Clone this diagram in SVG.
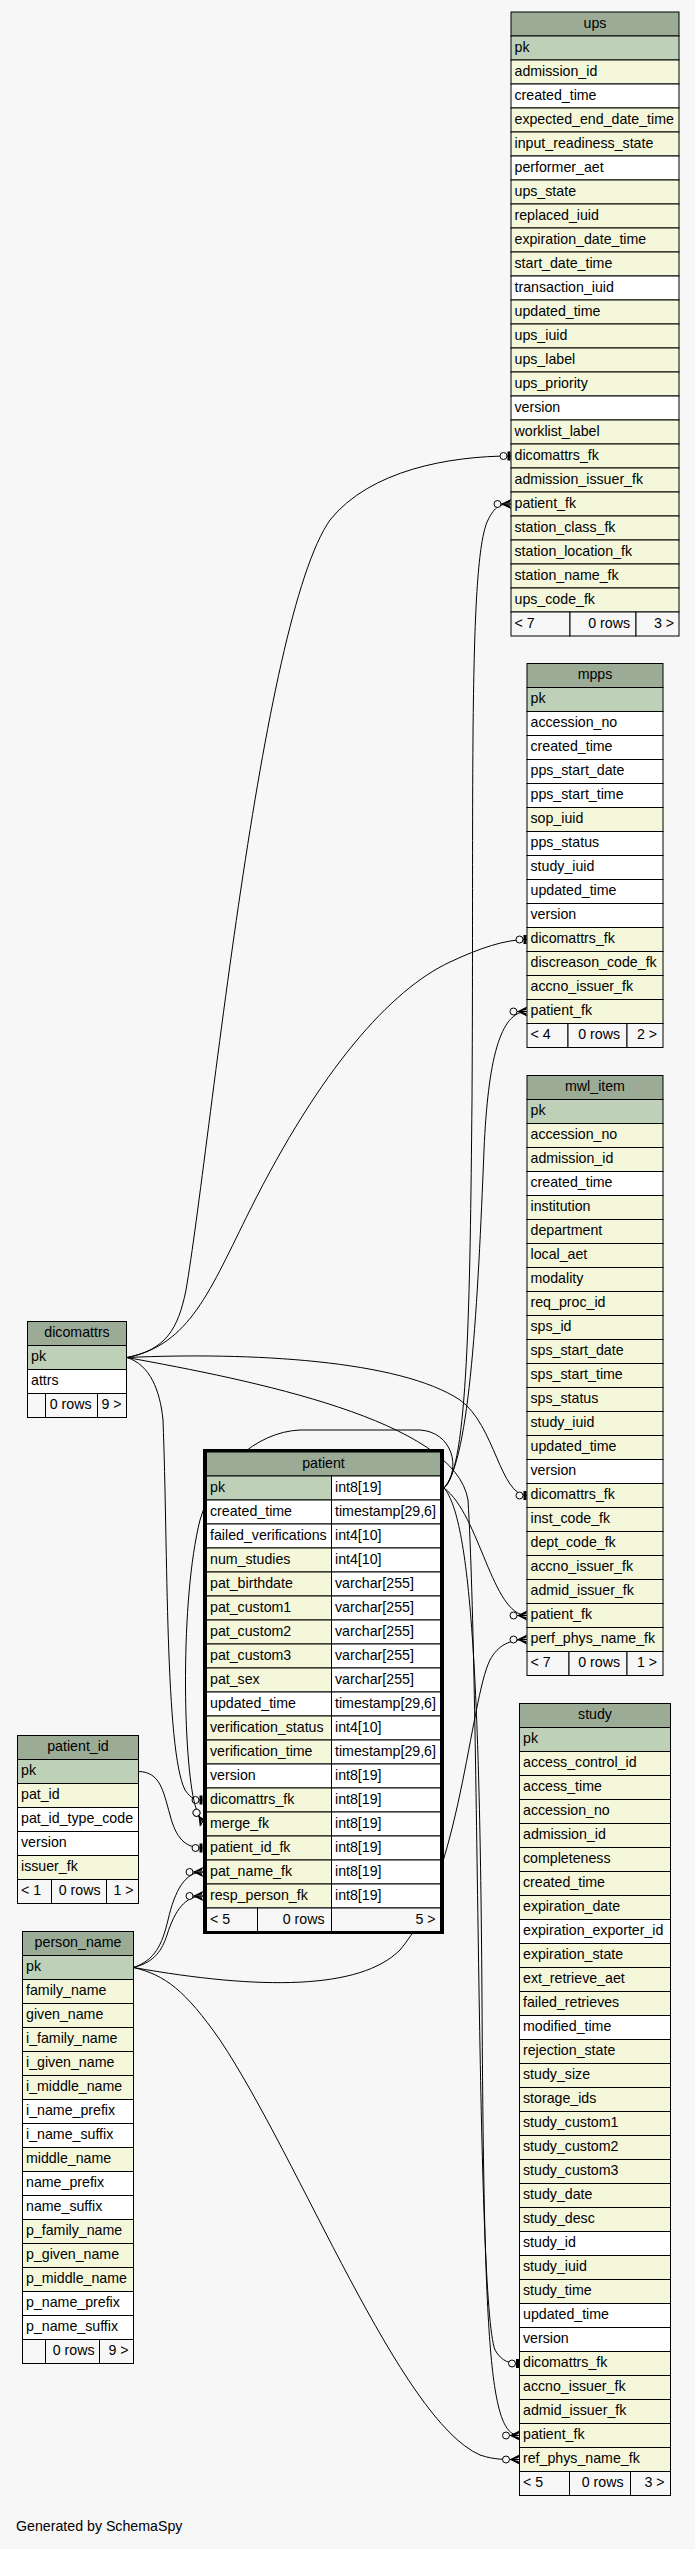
<svg xmlns="http://www.w3.org/2000/svg" width="695" height="2549" viewBox="0 0 695 2549">
<style>
rect{stroke:#000;stroke-width:1}
.h{fill:#9bab96}.p{fill:#bed1b8}.y{fill:#f4f7da}.w{fill:#ffffff}.f{fill:#f7f7f7}
text{font-family:"Liberation Sans",Arial,Helvetica,sans-serif;font-size:14.2px;fill:#000}
.c{text-anchor:middle}.r{text-anchor:end}
.e{fill:none;stroke:#000;stroke-width:1}
.pe{marker-end:url(#crow)}.te{marker-end:url(#tee)}
</style>
<defs>
<marker id="tee" markerUnits="userSpaceOnUse" viewBox="-14 -7 15 14" refX="0" refY="0" markerWidth="15" markerHeight="14" orient="auto" overflow="visible">
<rect x="-3.5" y="-4.5" width="3" height="9" style="fill:#000;stroke:none"/>
<circle cx="-7.5" cy="0" r="3.5" fill="#f7f7f7" stroke="#000"/>
</marker>
<marker id="crow" markerUnits="userSpaceOnUse" viewBox="-20 -7 21 14" refX="0" refY="0" markerWidth="21" markerHeight="14" orient="auto" overflow="visible">
<path d="M0,-5 L-10,0 L0,5 L-1,1.5 L-7,0 L-1,-1.5 Z" fill="#000"/>
<path d="M-10,0 H0" stroke="#000"/>
<circle cx="-13.5" cy="0" r="3.5" fill="#f7f7f7" stroke="#000"/>
</marker>
</defs>
<rect x="0" y="0" width="695" height="2549" style="fill:#f7f7f7;stroke:none"/>

<g id="connectors">
<path class="e te" d="M127,1357.5 C165,1350 178,1330 186,1290 C210,1150 260,620 330,520 C370,470 450,456 511,456"/>
<path class="e pe" d="M444,1488 C468,1470 470,1300 472,1100 C474,800 468,560 488,520 C495,506 500,504 511,504"/>
<path class="e te" d="M127,1357.5 C190,1345 210,1290 250,1210 C320,1070 390,990 450,962 C480,948 505,939.5 527,939.5"/>
<path class="e pe" d="M444,1488 C470,1460 478,1300 484,1150 C488,1060 500,1011.5 527,1011.5"/>
<path class="e te" d="M127,1357.5 C250,1352 400,1360 460,1400 C495,1425 500,1495.5 527,1495.5"/>
<path class="e pe" d="M444,1488 C480,1515 492,1615.5 527,1615.5"/>
<path class="e pe" d="M133.5,1967.5 C260,1990 360,1990 400,1950 C460,1880 470,1700 490,1660 C498,1645 510,1639.5 527,1639.5"/>
<path class="e te" d="M127,1357.5 C250,1380 455,1420 468,1500 C480,1700 476,2300 495,2350 C502,2362 510,2363.5 519.5,2363.5"/>
<path class="e pe" d="M444,1488 C472,1520 480,1700 482,2000 C484,2350 490,2435.5 519.5,2435.5"/>
<path class="e pe" d="M133.5,1967.5 C165,1975 185,1990 220,2040 C300,2160 400,2420 480,2455 C495,2460 505,2459.5 519.5,2459.5"/>
<path class="e te" d="M127,1357.5 C150,1365 160,1390 163,1420 C168,1550 165,1750 185,1790 C192,1800 196,1800 203,1800"/>
<path class="e pe" d="M444,1488 C462,1468 452,1432 420,1430 L300,1430 C255,1432 215,1470 200,1520 C180,1600 183,1760 195,1805 C197,1812 200,1818 204,1824"/>
<path class="e te" d="M138.5,1771.5 C160,1772 163,1790 170,1815 C176,1838 185,1848 203,1848"/>
<path class="e pe" d="M133.5,1967.5 C155,1960 162,1945 168,1920 C175,1890 185,1872 203,1872"/>
<path class="e pe" d="M133.5,1967.5 C155,1962 162,1950 167,1935 C175,1910 185,1896 203,1896"/>
</g>

<g id="ups" transform="translate(511,12)">
<rect class="h" x="0" y="0" width="168" height="24"/><text class="c" x="84" y="15.5">ups</text>
<rect class="p" x="0" y="24" width="168" height="24"/><text x="3.5" y="39.5">pk</text>
<rect class="y" x="0" y="48" width="168" height="24"/><text x="3.5" y="63.5">admission_id</text>
<rect class="w" x="0" y="72" width="168" height="24"/><text x="3.5" y="87.5">created_time</text>
<rect class="y" x="0" y="96" width="168" height="24"/><text x="3.5" y="111.5">expected_end_date_time</text>
<rect class="y" x="0" y="120" width="168" height="24"/><text x="3.5" y="135.5">input_readiness_state</text>
<rect class="w" x="0" y="144" width="168" height="24"/><text x="3.5" y="159.5">performer_aet</text>
<rect class="y" x="0" y="168" width="168" height="24"/><text x="3.5" y="183.5">ups_state</text>
<rect class="y" x="0" y="192" width="168" height="24"/><text x="3.5" y="207.5">replaced_iuid</text>
<rect class="y" x="0" y="216" width="168" height="24"/><text x="3.5" y="231.5">expiration_date_time</text>
<rect class="y" x="0" y="240" width="168" height="24"/><text x="3.5" y="255.5">start_date_time</text>
<rect class="w" x="0" y="264" width="168" height="24"/><text x="3.5" y="279.5">transaction_iuid</text>
<rect class="y" x="0" y="288" width="168" height="24"/><text x="3.5" y="303.5">updated_time</text>
<rect class="y" x="0" y="312" width="168" height="24"/><text x="3.5" y="327.5">ups_iuid</text>
<rect class="y" x="0" y="336" width="168" height="24"/><text x="3.5" y="351.5">ups_label</text>
<rect class="y" x="0" y="360" width="168" height="24"/><text x="3.5" y="375.5">ups_priority</text>
<rect class="w" x="0" y="384" width="168" height="24"/><text x="3.5" y="399.5">version</text>
<rect class="y" x="0" y="408" width="168" height="24"/><text x="3.5" y="423.5">worklist_label</text>
<rect class="y" x="0" y="432" width="168" height="24"/><text x="3.5" y="447.5">dicomattrs_fk</text>
<rect class="y" x="0" y="456" width="168" height="24"/><text x="3.5" y="471.5">admission_issuer_fk</text>
<rect class="y" x="0" y="480" width="168" height="24"/><text x="3.5" y="495.5">patient_fk</text>
<rect class="y" x="0" y="504" width="168" height="24"/><text x="3.5" y="519.5">station_class_fk</text>
<rect class="y" x="0" y="528" width="168" height="24"/><text x="3.5" y="543.5">station_location_fk</text>
<rect class="y" x="0" y="552" width="168" height="24"/><text x="3.5" y="567.5">station_name_fk</text>
<rect class="y" x="0" y="576" width="168" height="24"/><text x="3.5" y="591.5">ups_code_fk</text>
<rect class="f" x="0" y="600" width="59" height="24"/><rect class="f" x="59" y="600" width="66" height="24"/><rect class="f" x="125" y="600" width="43" height="24"/>
<text x="3.5" y="615.5">&lt; 7</text><text class="r" x="119" y="615.5">0 rows</text><text class="r" x="163" y="615.5">3 &gt;</text>
</g>

<g id="mpps" transform="translate(527,663.5)">
<rect class="h" x="0" y="0" width="136" height="24"/><text class="c" x="68" y="15.5">mpps</text>
<rect class="p" x="0" y="24" width="136" height="24"/><text x="3.5" y="39.5">pk</text>
<rect class="w" x="0" y="48" width="136" height="24"/><text x="3.5" y="63.5">accession_no</text>
<rect class="w" x="0" y="72" width="136" height="24"/><text x="3.5" y="87.5">created_time</text>
<rect class="w" x="0" y="96" width="136" height="24"/><text x="3.5" y="111.5">pps_start_date</text>
<rect class="w" x="0" y="120" width="136" height="24"/><text x="3.5" y="135.5">pps_start_time</text>
<rect class="y" x="0" y="144" width="136" height="24"/><text x="3.5" y="159.5">sop_iuid</text>
<rect class="w" x="0" y="168" width="136" height="24"/><text x="3.5" y="183.5">pps_status</text>
<rect class="w" x="0" y="192" width="136" height="24"/><text x="3.5" y="207.5">study_iuid</text>
<rect class="w" x="0" y="216" width="136" height="24"/><text x="3.5" y="231.5">updated_time</text>
<rect class="w" x="0" y="240" width="136" height="24"/><text x="3.5" y="255.5">version</text>
<rect class="y" x="0" y="264" width="136" height="24"/><text x="3.5" y="279.5">dicomattrs_fk</text>
<rect class="y" x="0" y="288" width="136" height="24"/><text x="3.5" y="303.5">discreason_code_fk</text>
<rect class="y" x="0" y="312" width="136" height="24"/><text x="3.5" y="327.5">accno_issuer_fk</text>
<rect class="y" x="0" y="336" width="136" height="24"/><text x="3.5" y="351.5">patient_fk</text>
<rect class="f" x="0" y="360" width="41" height="24"/><rect class="f" x="41" y="360" width="59" height="24"/><rect class="f" x="100" y="360" width="36" height="24"/>
<text x="3.5" y="375.5">&lt; 4</text><text class="r" x="93" y="375.5">0 rows</text><text class="r" x="130" y="375.5">2 &gt;</text>
</g>

<g id="mwl_item" transform="translate(527,1075.5)">
<rect class="h" x="0" y="0" width="136" height="24"/><text class="c" x="68" y="15.5">mwl_item</text>
<rect class="p" x="0" y="24" width="136" height="24"/><text x="3.5" y="39.5">pk</text>
<rect class="y" x="0" y="48" width="136" height="24"/><text x="3.5" y="63.5">accession_no</text>
<rect class="y" x="0" y="72" width="136" height="24"/><text x="3.5" y="87.5">admission_id</text>
<rect class="w" x="0" y="96" width="136" height="24"/><text x="3.5" y="111.5">created_time</text>
<rect class="y" x="0" y="120" width="136" height="24"/><text x="3.5" y="135.5">institution</text>
<rect class="y" x="0" y="144" width="136" height="24"/><text x="3.5" y="159.5">department</text>
<rect class="y" x="0" y="168" width="136" height="24"/><text x="3.5" y="183.5">local_aet</text>
<rect class="y" x="0" y="192" width="136" height="24"/><text x="3.5" y="207.5">modality</text>
<rect class="y" x="0" y="216" width="136" height="24"/><text x="3.5" y="231.5">req_proc_id</text>
<rect class="y" x="0" y="240" width="136" height="24"/><text x="3.5" y="255.5">sps_id</text>
<rect class="y" x="0" y="264" width="136" height="24"/><text x="3.5" y="279.5">sps_start_date</text>
<rect class="y" x="0" y="288" width="136" height="24"/><text x="3.5" y="303.5">sps_start_time</text>
<rect class="y" x="0" y="312" width="136" height="24"/><text x="3.5" y="327.5">sps_status</text>
<rect class="y" x="0" y="336" width="136" height="24"/><text x="3.5" y="351.5">study_iuid</text>
<rect class="y" x="0" y="360" width="136" height="24"/><text x="3.5" y="375.5">updated_time</text>
<rect class="w" x="0" y="384" width="136" height="24"/><text x="3.5" y="399.5">version</text>
<rect class="y" x="0" y="408" width="136" height="24"/><text x="3.5" y="423.5">dicomattrs_fk</text>
<rect class="y" x="0" y="432" width="136" height="24"/><text x="3.5" y="447.5">inst_code_fk</text>
<rect class="y" x="0" y="456" width="136" height="24"/><text x="3.5" y="471.5">dept_code_fk</text>
<rect class="y" x="0" y="480" width="136" height="24"/><text x="3.5" y="495.5">accno_issuer_fk</text>
<rect class="y" x="0" y="504" width="136" height="24"/><text x="3.5" y="519.5">admid_issuer_fk</text>
<rect class="y" x="0" y="528" width="136" height="24"/><text x="3.5" y="543.5">patient_fk</text>
<rect class="y" x="0" y="552" width="136" height="24"/><text x="3.5" y="567.5">perf_phys_name_fk</text>
<rect class="f" x="0" y="576" width="42" height="24"/><rect class="f" x="42" y="576" width="58" height="24"/><rect class="f" x="100" y="576" width="36" height="24"/>
<text x="3.5" y="591.5">&lt; 7</text><text class="r" x="93" y="591.5">0 rows</text><text class="r" x="130" y="591.5">1 &gt;</text>
</g>

<g id="study" transform="translate(519.5,1703.5)">
<rect class="h" x="0" y="0" width="151" height="24"/><text class="c" x="75.5" y="15.5">study</text>
<rect class="p" x="0" y="24" width="151" height="24"/><text x="3.5" y="39.5">pk</text>
<rect class="y" x="0" y="48" width="151" height="24"/><text x="3.5" y="63.5">access_control_id</text>
<rect class="y" x="0" y="72" width="151" height="24"/><text x="3.5" y="87.5">access_time</text>
<rect class="y" x="0" y="96" width="151" height="24"/><text x="3.5" y="111.5">accession_no</text>
<rect class="y" x="0" y="120" width="151" height="24"/><text x="3.5" y="135.5">admission_id</text>
<rect class="y" x="0" y="144" width="151" height="24"/><text x="3.5" y="159.5">completeness</text>
<rect class="y" x="0" y="168" width="151" height="24"/><text x="3.5" y="183.5">created_time</text>
<rect class="y" x="0" y="192" width="151" height="24"/><text x="3.5" y="207.5">expiration_date</text>
<rect class="w" x="0" y="216" width="151" height="24"/><text x="3.5" y="231.5">expiration_exporter_id</text>
<rect class="y" x="0" y="240" width="151" height="24"/><text x="3.5" y="255.5">expiration_state</text>
<rect class="y" x="0" y="264" width="151" height="24"/><text x="3.5" y="279.5">ext_retrieve_aet</text>
<rect class="y" x="0" y="288" width="151" height="24"/><text x="3.5" y="303.5">failed_retrieves</text>
<rect class="w" x="0" y="312" width="151" height="24"/><text x="3.5" y="327.5">modified_time</text>
<rect class="y" x="0" y="336" width="151" height="24"/><text x="3.5" y="351.5">rejection_state</text>
<rect class="y" x="0" y="360" width="151" height="24"/><text x="3.5" y="375.5">study_size</text>
<rect class="y" x="0" y="384" width="151" height="24"/><text x="3.5" y="399.5">storage_ids</text>
<rect class="y" x="0" y="408" width="151" height="24"/><text x="3.5" y="423.5">study_custom1</text>
<rect class="y" x="0" y="432" width="151" height="24"/><text x="3.5" y="447.5">study_custom2</text>
<rect class="y" x="0" y="456" width="151" height="24"/><text x="3.5" y="471.5">study_custom3</text>
<rect class="y" x="0" y="480" width="151" height="24"/><text x="3.5" y="495.5">study_date</text>
<rect class="y" x="0" y="504" width="151" height="24"/><text x="3.5" y="519.5">study_desc</text>
<rect class="w" x="0" y="528" width="151" height="24"/><text x="3.5" y="543.5">study_id</text>
<rect class="y" x="0" y="552" width="151" height="24"/><text x="3.5" y="567.5">study_iuid</text>
<rect class="y" x="0" y="576" width="151" height="24"/><text x="3.5" y="591.5">study_time</text>
<rect class="w" x="0" y="600" width="151" height="24"/><text x="3.5" y="615.5">updated_time</text>
<rect class="w" x="0" y="624" width="151" height="24"/><text x="3.5" y="639.5">version</text>
<rect class="y" x="0" y="648" width="151" height="24"/><text x="3.5" y="663.5">dicomattrs_fk</text>
<rect class="y" x="0" y="672" width="151" height="24"/><text x="3.5" y="687.5">accno_issuer_fk</text>
<rect class="y" x="0" y="696" width="151" height="24"/><text x="3.5" y="711.5">admid_issuer_fk</text>
<rect class="y" x="0" y="720" width="151" height="24"/><text x="3.5" y="735.5">patient_fk</text>
<rect class="y" x="0" y="744" width="151" height="24"/><text x="3.5" y="759.5">ref_phys_name_fk</text>
<rect class="f" x="0" y="768" width="50" height="24"/><rect class="f" x="50" y="768" width="61" height="24"/><rect class="f" x="111" y="768" width="40" height="24"/>
<text x="3.5" y="783.5">&lt; 5</text><text class="r" x="104" y="783.5">0 rows</text><text class="r" x="145" y="783.5">3 &gt;</text>
</g>

<g id="dicomattrs" transform="translate(27.5,1321.5)">
<rect class="h" x="0" y="0" width="99" height="24"/><text class="c" x="49.5" y="15.5">dicomattrs</text>
<rect class="p" x="0" y="24" width="99" height="24"/><text x="3.5" y="39.5">pk</text>
<rect class="w" x="0" y="48" width="99" height="24"/><text x="3.5" y="63.5">attrs</text>
<rect class="f" x="0" y="72" width="18" height="24"/><rect class="f" x="18" y="72" width="52" height="24"/><rect class="f" x="70" y="72" width="29" height="24"/>
<text class="r" x="64" y="87.5">0 rows</text><text class="r" x="94" y="87.5">9 &gt;</text>
</g>

<g id="patient_id" transform="translate(17.5,1735.5)">
<rect class="h" x="0" y="0" width="121" height="24"/><text class="c" x="60.5" y="15.5">patient_id</text>
<rect class="p" x="0" y="24" width="121" height="24"/><text x="3.5" y="39.5">pk</text>
<rect class="y" x="0" y="48" width="121" height="24"/><text x="3.5" y="63.5">pat_id</text>
<rect class="w" x="0" y="72" width="121" height="24"/><text x="3.5" y="87.5">pat_id_type_code</text>
<rect class="w" x="0" y="96" width="121" height="24"/><text x="3.5" y="111.5">version</text>
<rect class="y" x="0" y="120" width="121" height="24"/><text x="3.5" y="135.5">issuer_fk</text>
<rect class="f" x="0" y="144" width="34" height="24"/><rect class="f" x="34" y="144" width="55" height="24"/><rect class="f" x="89" y="144" width="32" height="24"/>
<text x="3.5" y="159.5">&lt; 1</text><text class="r" x="83" y="159.5">0 rows</text><text class="r" x="116" y="159.5">1 &gt;</text>
</g>

<g id="person_name" transform="translate(22.5,1931.5)">
<rect class="h" x="0" y="0" width="111" height="24"/><text class="c" x="55.5" y="15.5">person_name</text>
<rect class="p" x="0" y="24" width="111" height="24"/><text x="3.5" y="39.5">pk</text>
<rect class="y" x="0" y="48" width="111" height="24"/><text x="3.5" y="63.5">family_name</text>
<rect class="y" x="0" y="72" width="111" height="24"/><text x="3.5" y="87.5">given_name</text>
<rect class="y" x="0" y="96" width="111" height="24"/><text x="3.5" y="111.5">i_family_name</text>
<rect class="y" x="0" y="120" width="111" height="24"/><text x="3.5" y="135.5">i_given_name</text>
<rect class="y" x="0" y="144" width="111" height="24"/><text x="3.5" y="159.5">i_middle_name</text>
<rect class="w" x="0" y="168" width="111" height="24"/><text x="3.5" y="183.5">i_name_prefix</text>
<rect class="w" x="0" y="192" width="111" height="24"/><text x="3.5" y="207.5">i_name_suffix</text>
<rect class="y" x="0" y="216" width="111" height="24"/><text x="3.5" y="231.5">middle_name</text>
<rect class="w" x="0" y="240" width="111" height="24"/><text x="3.5" y="255.5">name_prefix</text>
<rect class="w" x="0" y="264" width="111" height="24"/><text x="3.5" y="279.5">name_suffix</text>
<rect class="y" x="0" y="288" width="111" height="24"/><text x="3.5" y="303.5">p_family_name</text>
<rect class="y" x="0" y="312" width="111" height="24"/><text x="3.5" y="327.5">p_given_name</text>
<rect class="y" x="0" y="336" width="111" height="24"/><text x="3.5" y="351.5">p_middle_name</text>
<rect class="w" x="0" y="360" width="111" height="24"/><text x="3.5" y="375.5">p_name_prefix</text>
<rect class="w" x="0" y="384" width="111" height="24"/><text x="3.5" y="399.5">p_name_suffix</text>
<rect class="f" x="0" y="408" width="23" height="24"/><rect class="f" x="23" y="408" width="54" height="24"/><rect class="f" x="77" y="408" width="34" height="24"/>
<text class="r" x="72" y="423.5">0 rows</text><text class="r" x="106" y="423.5">9 &gt;</text>
</g>

<g id="patient" transform="translate(206.5,1452)">
<rect class="h" x="0" y="0" width="234" height="24"/><text class="c" x="117" y="15.5">patient</text>
<rect class="p" x="0" y="24" width="125" height="24"/><rect class="w" x="125" y="24" width="109" height="24"/><text x="3.5" y="39.5">pk</text><text x="128.5" y="39.5">int8[19]</text>
<rect class="w" x="0" y="48" width="125" height="24"/><rect class="w" x="125" y="48" width="109" height="24"/><text x="3.5" y="63.5">created_time</text><text x="128.5" y="63.5">timestamp[29,6]</text>
<rect class="w" x="0" y="72" width="125" height="24"/><rect class="w" x="125" y="72" width="109" height="24"/><text x="3.5" y="87.5">failed_verifications</text><text x="128.5" y="87.5">int4[10]</text>
<rect class="y" x="0" y="96" width="125" height="24"/><rect class="w" x="125" y="96" width="109" height="24"/><text x="3.5" y="111.5">num_studies</text><text x="128.5" y="111.5">int4[10]</text>
<rect class="y" x="0" y="120" width="125" height="24"/><rect class="w" x="125" y="120" width="109" height="24"/><text x="3.5" y="135.5">pat_birthdate</text><text x="128.5" y="135.5">varchar[255]</text>
<rect class="y" x="0" y="144" width="125" height="24"/><rect class="w" x="125" y="144" width="109" height="24"/><text x="3.5" y="159.5">pat_custom1</text><text x="128.5" y="159.5">varchar[255]</text>
<rect class="y" x="0" y="168" width="125" height="24"/><rect class="w" x="125" y="168" width="109" height="24"/><text x="3.5" y="183.5">pat_custom2</text><text x="128.5" y="183.5">varchar[255]</text>
<rect class="y" x="0" y="192" width="125" height="24"/><rect class="w" x="125" y="192" width="109" height="24"/><text x="3.5" y="207.5">pat_custom3</text><text x="128.5" y="207.5">varchar[255]</text>
<rect class="y" x="0" y="216" width="125" height="24"/><rect class="w" x="125" y="216" width="109" height="24"/><text x="3.5" y="231.5">pat_sex</text><text x="128.5" y="231.5">varchar[255]</text>
<rect class="w" x="0" y="240" width="125" height="24"/><rect class="w" x="125" y="240" width="109" height="24"/><text x="3.5" y="255.5">updated_time</text><text x="128.5" y="255.5">timestamp[29,6]</text>
<rect class="y" x="0" y="264" width="125" height="24"/><rect class="w" x="125" y="264" width="109" height="24"/><text x="3.5" y="279.5">verification_status</text><text x="128.5" y="279.5">int4[10]</text>
<rect class="y" x="0" y="288" width="125" height="24"/><rect class="w" x="125" y="288" width="109" height="24"/><text x="3.5" y="303.5">verification_time</text><text x="128.5" y="303.5">timestamp[29,6]</text>
<rect class="w" x="0" y="312" width="125" height="24"/><rect class="w" x="125" y="312" width="109" height="24"/><text x="3.5" y="327.5">version</text><text x="128.5" y="327.5">int8[19]</text>
<rect class="y" x="0" y="336" width="125" height="24"/><rect class="w" x="125" y="336" width="109" height="24"/><text x="3.5" y="351.5">dicomattrs_fk</text><text x="128.5" y="351.5">int8[19]</text>
<rect class="y" x="0" y="360" width="125" height="24"/><rect class="w" x="125" y="360" width="109" height="24"/><text x="3.5" y="375.5">merge_fk</text><text x="128.5" y="375.5">int8[19]</text>
<rect class="y" x="0" y="384" width="125" height="24"/><rect class="w" x="125" y="384" width="109" height="24"/><text x="3.5" y="399.5">patient_id_fk</text><text x="128.5" y="399.5">int8[19]</text>
<rect class="y" x="0" y="408" width="125" height="24"/><rect class="w" x="125" y="408" width="109" height="24"/><text x="3.5" y="423.5">pat_name_fk</text><text x="128.5" y="423.5">int8[19]</text>
<rect class="y" x="0" y="432" width="125" height="24"/><rect class="w" x="125" y="432" width="109" height="24"/><text x="3.5" y="447.5">resp_person_fk</text><text x="128.5" y="447.5">int8[19]</text>
<rect class="f" x="0" y="456" width="51" height="24"/><rect class="f" x="51" y="456" width="74" height="24"/><rect class="f" x="125" y="456" width="109" height="24"/>
<text x="3.5" y="471.5">&lt; 5</text><text class="r" x="118" y="471.5">0 rows</text><text class="r" x="229" y="471.5">5 &gt;</text>
<rect x="-2" y="-1.5" width="238" height="482" style="fill:none;stroke:#000;stroke-width:3"/>
</g>

<text x="16" y="2531">Generated by SchemaSpy</text>
</svg>
